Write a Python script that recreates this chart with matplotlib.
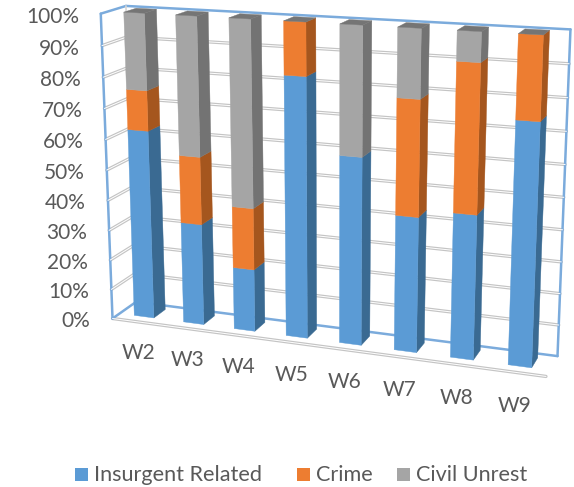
import numpy as np
from matplotlib import pyplot as plt

plt.rcParams['font.family'] = ['Lato', 'DejaVu Sans']

weeks = ["W2", "W3", "W4", "W5", "W6", "W7", "W8", "W9"]
insurgent = [62.5, 33.5, 20.5, 83.5, 60, 43, 45.5, 75]
crime = [13, 22, 20, 16.5, 0, 36, 45.5, 25]
unrest = [24.5, 44.5, 59.5, 0, 40, 21, 9, 0]

series = [
    ("Insurgent Related", insurgent, "#5B9BD5", "#3A6A92"),
    ("Crime", crime, "#ED7D31", "#A5561E"),
    ("Civil Unrest", unrest, "#A5A5A5", "#737373"),
]
percent_ticks = list(range(0, 101, 10))

TEXT = "#595959"
WALL_BLUE = "#7BABDC"
GRID_DARK = "#C4C4C4"

bar_l, bar_r = 0.30, 0.70
d_front, d_back = 0.30, 0.80

# reference points of the box (week axis, depth, height) and where they land on the canvas
box_world = np.array([
    [0, 0, 0], [8, 0, 0], [0, 0, 1],
    [0, 1, 0], [8, 1, 0], [0, 1, 1], [8, 1, 1],
    [bar_l, d_front, 0], [bar_r, d_front, 0], [bar_r, d_back, 0],
    [7 + bar_l, d_front, 0], [7 + bar_r, d_front, 0], [7 + bar_r, d_back, 0],
    [bar_l, d_front, 1], [bar_r, d_front, 1],
    [7 + bar_l, d_front, 1], [7 + bar_r, d_front, 1],
], dtype=float)
box_pixels = np.array([
    [113, 318], [546, 376], [99, 14],
    [135, 303], [558, 355], [127, 6], [571, 30],
    [135, 316], [155, 318], [164, 308],
    [508, 365], [532, 369], [537, 358],
    [124, 12], [145, 13],
    [518, 33], [543, 35],
], dtype=float)


def fit_camera(world, pixels):
    rows, rhs = [], []
    for (x, y, z), (u, v) in zip(world, pixels):
        rows.append([x, y, z, 1, 0, 0, 0, 0, -u * x, -u * y, -u * z])
        rows.append([0, 0, 0, 0, x, y, z, 1, -v * x, -v * y, -v * z])
        rhs += [u, v]
    m = np.linalg.lstsq(np.array(rows), np.array(rhs), rcond=None)[0]
    return np.append(m, 1).reshape(3, 4)


camera = fit_camera(box_world, box_pixels)


def project(x, depth, height):
    u, v, w = camera @ np.array([x, depth, height, 1.0])
    return u / w, v / w


def face(ax, corners, color):
    pts = [project(*c) for c in corners]
    ax.fill(*zip(*pts), facecolor=color, edgecolor=color, linewidth=0.3, zorder=5)


def line3d(ax, a, b, color, lw, zorder=2):
    pa, pb = project(*a), project(*b)
    ax.plot([pa[0], pb[0]], [pa[1], pb[1]], color=color, lw=lw, zorder=zorder,
            solid_capstyle="round")


def double_line(ax, a, b):
    line3d(ax, a, b, GRID_DARK, 2.4)
    line3d(ax, a, b, "white", 0.7, zorder=2.1)


fig = plt.figure(figsize=(5.74, 4.87), dpi=100)
ax = fig.add_axes([0, 0, 1, 1])
ax.set_xlim(0, 574)
ax.set_ylim(487, 0)
ax.axis("off")

# walls and gridlines
n_weeks = len(weeks)
for p in percent_ticks[1:-1]:
    z = p / 100
    double_line(ax, (0, 1, z), (n_weeks, 1, z))
    double_line(ax, (0, 0, z), (0, 1, z))
double_line(ax, (0, 0, 0), (n_weeks, 0, 0))

line3d(ax, (0, 0, 0), (0, 0, 1), WALL_BLUE, 1.8)
line3d(ax, (0, 0, 1), (0, 1, 1), WALL_BLUE, 1.8)
line3d(ax, (0, 1, 1), (n_weeks, 1, 1), WALL_BLUE, 1.8)
line3d(ax, (n_weeks, 1, 1), (n_weeks, 1, 0), WALL_BLUE, 1.8)
line3d(ax, (0, 1, 0), (n_weeks, 1, 0), WALL_BLUE, 1.8)
line3d(ax, (0, 0, 0), (0, 1, 0), WALL_BLUE, 1.8)
line3d(ax, (0, 1, 0), (0, 1, 1), "#D5D5D5", 1.2)

# stacked bars
for i in range(n_weeks):
    x0, x1 = i + bar_l, i + bar_r
    base = 0
    for name, values, color, shade in series:
        top = base + values[i]
        z0, z1 = base / 100, top / 100
        if values[i] > 0:
            face(ax, [(x1, d_front, z0), (x1, d_back, z0), (x1, d_back, z1), (x1, d_front, z1)], shade)
            face(ax, [(x0, d_front, z0), (x1, d_front, z0), (x1, d_front, z1), (x0, d_front, z1)], color)
        base = top
    z = base / 100
    face(ax, [(x0, d_front, z), (x1, d_front, z), (x1, d_back, z), (x0, d_back, z)], "#757575")

# axis labels
for p in percent_ticks:
    u, v = project(0, 0, p / 100)
    ax.text(u - 22, v + 3, f"{p}%", ha="right", va="center", fontsize=15, color=TEXT)

for i, week in enumerate(weeks):
    u, v = project(i + 0.5, 0, -0.105)
    ax.text(u, v + 1, week, ha="center", va="center", fontsize=15, color=TEXT)

# legend along the bottom
legend_x = [75, 297, 397]
for (name, values, color, shade), lx in zip(series, legend_x):
    ax.fill([lx, lx + 13, lx + 13, lx], [468, 468, 481, 481], color=color, lw=0)
    ax.text(lx + 19, 475, name, ha="left", va="center", fontsize=15.6, color=TEXT)

plt.savefig("out.png", dpi=100)
